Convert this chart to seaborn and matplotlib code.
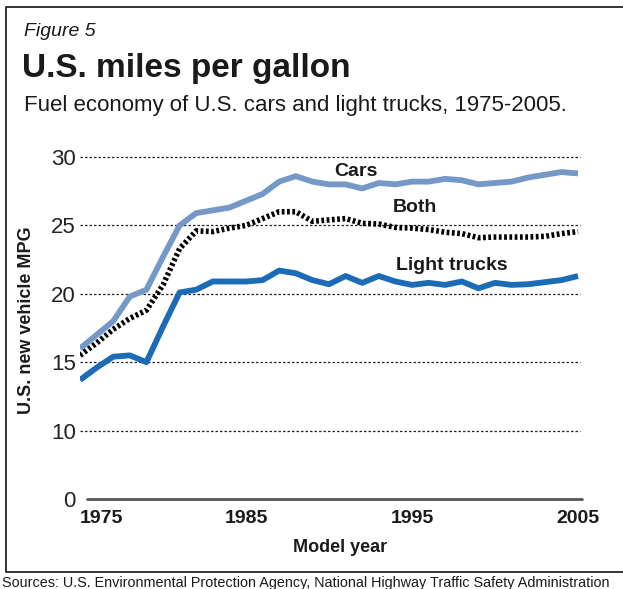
import numpy as np
import pandas as pd
import matplotlib
matplotlib.use("Agg")
import matplotlib.pyplot as plt
from matplotlib.lines import Line2D
import seaborn as sns

# ============================================================
# data
# ============================================================
years = list(range(1975, 2006))
cars_mpg = [16.0, 17.0, 18.0, 19.8, 20.3, 22.7, 25.0, 25.9, 26.1, 26.3,
            26.8, 27.3, 28.2, 28.6, 28.2, 28.0, 28.0, 27.7, 28.1, 28.0,
            28.2, 28.2, 28.4, 28.3, 28.0, 28.1, 28.2, 28.5, 28.7, 28.9, 28.8]
trucks_mpg = [13.7, 14.6, 15.4, 15.5, 15.0, 17.6, 20.1, 20.3, 20.9, 20.9,
              20.9, 21.0, 21.7, 21.5, 21.0, 20.7, 21.3, 20.8, 21.3, 20.9,
              20.65, 20.8, 20.65, 20.9, 20.4, 20.8, 20.65, 20.7, 20.85, 21.0, 21.3]
both_mpg = [15.5, 16.4, 17.4, 18.2, 18.8, 20.65, 23.3, 24.6, 24.55, 24.8,
            25.0, 25.5, 26.0, 26.0, 25.3, 25.4, 25.5, 25.15, 25.1, 24.85,
            24.8, 24.7, 24.5, 24.4, 24.1, 24.15, 24.15, 24.15, 24.2, 24.4, 24.55]
y_ticks = [0, 10, 15, 20, 25, 30]
x_ticks = [1975, 1985, 1995, 2005]

df = pd.DataFrame({"year": years, "Cars": cars_mpg,
                   "Light trucks": trucks_mpg, "Both": both_mpg})

# ============================================================
# style
# ============================================================
sns.set_theme(style="white")
plt.rcParams['font.family'] = ['Liberation Sans', 'DejaVu Sans']
plt.rcParams['axes.unicode_minus'] = False

W, H = 623, 589
CARS_COLOR = '#7598C9'
TRUCK_COLOR = '#1B6BB6'
TEXT_COLOR = '#1a1a1a'


def px(x, y):
    """pixel position -> figure fraction"""
    return x / W, 1 - y / H


fig = plt.figure(figsize=(W / 100, H / 100), dpi=100)
left, bottom = px(80, 499)
ax = fig.add_axes([left, bottom, 500 / W, 342 / H])

# 0-10 band is squeezed to half height, as in the original
fwd = lambda v: np.where(np.asarray(v) >= 10, v, 5 + np.asarray(v) / 2)
inv = lambda t: np.where(np.asarray(t) >= 10, t, (np.asarray(t) - 5) * 2)
ax.set_yscale('function', functions=(fwd, inv))

sns.lineplot(data=df, x="year", y="Cars", ax=ax, color=CARS_COLOR, lw=4.2,
             solid_capstyle='butt', solid_joinstyle='round')
sns.lineplot(data=df, x="year", y="Light trucks", ax=ax, color=TRUCK_COLOR, lw=4.2,
             solid_capstyle='butt', solid_joinstyle='round')
sns.lineplot(data=df, x="year", y="Both", ax=ax, color='black', lw=4.0,
             linestyle=(0, (0.5, 0.45)), dash_capstyle='butt')

ax.set_xlim(1975, 2005.12)
ax.set_ylim(0, 30)

# dotted gridlines and the solid zero baseline
for v in y_ticks[1:]:
    ax.axhline(v, color='#222222', lw=0.9, ls=(0, (2, 1.6)), zorder=0, clip_on=False)
ax.axhline(0, xmin=0.014, xmax=1.004, color='#555555', lw=2.0, clip_on=False)

for s in ax.spines.values():
    s.set_visible(False)

ax.set_yticks(y_ticks)
ax.set_yticklabels([str(v) for v in y_ticks], fontsize=16, color='#222222')
ax.set_xticks(x_ticks)
ax.set_xticklabels([str(v) for v in x_ticks], fontsize=14, fontweight='bold', color=TEXT_COLOR)
ax.get_xticklabels()[0].set_ha('left')
ax.tick_params(axis='y', length=0, pad=3)
ax.tick_params(axis='x', length=0, pad=8)
ax.set_xlabel('')
ax.set_ylabel('')

# series labels
ax.text(1991.6, 28.95, 'Cars', fontsize=14, fontweight='bold', color=TEXT_COLOR,
        ha='center', va='center')
ax.text(1995.2, 26.3, 'Both', fontsize=14, fontweight='bold', color=TEXT_COLOR,
        ha='center', va='center')
ax.text(1997.4, 22.1, 'Light trucks', fontsize=14, fontweight='bold', color=TEXT_COLOR,
        ha='center', va='center')

# axis titles
fig.text(*px(27, 320), 'U.S. new vehicle MPG', rotation=90, fontsize=13,
         fontweight='bold', color=TEXT_COLOR, ha='center', va='center')
fig.text(*px(340, 548), 'Model year', fontsize=13, fontweight='bold',
         color=TEXT_COLOR, ha='center', va='center')

# headings
fig.text(*px(24, 32), 'Figure 5', fontsize=14, style='italic', color=TEXT_COLOR,
         ha='left', va='center')
fig.text(*px(22, 69), 'U.S. miles per gallon', fontsize=24, fontweight='bold',
         color=TEXT_COLOR, ha='left', va='center')
fig.text(*px(24, 105), 'Fuel economy of U.S. cars and light trucks, 1975-2005.',
         fontsize=16, color=TEXT_COLOR, ha='left', va='center')

# frame (open on the right side)
xs, ys = zip(px(W, 7), px(6, 7), px(6, 572), px(W, 572))
fig.add_artist(Line2D(xs, ys, color='#333333', lw=1.4, transform=fig.transFigure))

fig.text(*px(2, 583), 'Sources: U.S. Environmental Protection Agency, National Highway '
         'Traffic Safety Administration', fontsize=10.4, color=TEXT_COLOR,
         ha='left', va='center')

fig.savefig('out.png', dpi=100)
